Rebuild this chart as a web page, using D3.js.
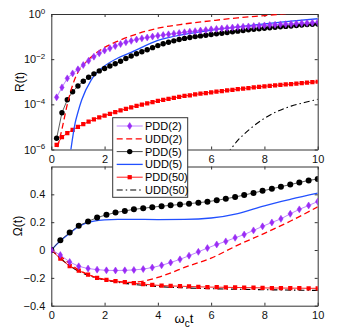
<!DOCTYPE html>
<html>
<head>
<meta charset="utf-8">
<script src="https://cdn.jsdelivr.net/npm/d3@7"></script>
<style>
  body { margin: 0; background: #fff; }
  svg { font-family: "Liberation Sans", Arial, sans-serif; }
  .axis path, .axis line { stroke: #333; }
  .axis text { font-size: 11px; fill: #111; }
</style>
</head>
<body>
<svg id="chart" width="350" height="333"></svg>
<script>
// ---- data ----
const tTop = [0.2, 0.4, 0.6, 0.8, 1.0, 1.2, 1.4, 1.6, 1.8, 2.0,
              2.2, 2.4, 2.6, 2.8, 3.0, 3.2, 3.4, 3.6, 3.8, 4.0,
              4.2, 4.4, 4.6, 4.8, 5.0, 5.2, 5.4, 5.6, 5.8, 6.0,
              6.2, 6.4, 6.6, 6.8, 7.0, 7.2, 7.4, 7.6, 7.8, 8.0,
              8.2, 8.4, 8.6, 8.8, 9.0, 9.2, 9.4, 9.6, 9.8, 10];

// log10 R(t)
const pdd2LogR = [-3.69, -3.25, -2.85, -2.63, -2.45, -2.26, -2.07, -1.89, -1.74, -1.62,
                  -1.52, -1.42, -1.33, -1.25, -1.19, -1.13, -1.08, -1.04, -1.00, -0.96,
                  -0.93, -0.90, -0.87, -0.84, -0.81, -0.78, -0.76, -0.73, -0.71, -0.68,
                  -0.66, -0.64, -0.62, -0.60, -0.58, -0.565, -0.55, -0.535, -0.52, -0.505,
                  -0.49, -0.475, -0.46, -0.45, -0.44, -0.425, -0.41, -0.40, -0.385, -0.37];
const pdd5LogR = [-5.50, -4.37, -3.80, -3.44, -3.19, -2.98, -2.80, -2.65, -2.52, -2.41,
                  -2.30, -2.20, -2.09, -1.97, -1.86, -1.76, -1.67, -1.58, -1.49, -1.40,
                  -1.32, -1.25, -1.19, -1.13, -1.08, -1.04, -1.00, -0.97, -0.94, -0.91,
                  -0.88, -0.85, -0.82, -0.79, -0.76, -0.73, -0.70, -0.68, -0.65, -0.63,
                  -0.61, -0.59, -0.57, -0.55, -0.53, -0.51, -0.49, -0.47, -0.455, -0.44];
const pdd50LogR = [-5.80, -5.45, -5.28, -5.13, -5.00, -4.88, -4.77, -4.67, -4.58, -4.50,
                   -4.42, -4.34, -4.27, -4.20, -4.13, -4.07, -4.01, -3.96, -3.90, -3.85,
                   -3.80, -3.76, -3.71, -3.67, -3.63, -3.60, -3.56, -3.53, -3.50, -3.47,
                   -3.44, -3.41, -3.38, -3.36, -3.33, -3.30, -3.28, -3.25, -3.23, -3.20,
                   -3.18, -3.16, -3.14, -3.12, -3.10, -3.08, -3.06, -3.04, -3.02, -3.00];

const udd2T = [0.15, 0.4, 0.6, 0.8, 1.0, 1.25, 1.5, 2, 2.5, 3, 4, 5, 6, 7, 8, 9, 10];
const udd2LogR = [-6.3, -5.1, -4.0, -3.15, -2.58, -2.2, -1.9, -1.48, -1.2, -0.97, -0.63, -0.44, -0.3, -0.17, -0.07, 0.03, 0.12];
const udd5T = [0.7, 0.9, 1.0, 1.14, 1.5, 2, 2.5, 3, 4, 5, 6, 7, 8, 9, 10];
const udd5LogR = [-6.3, -4.8, -4.35, -3.81, -2.92, -2.3, -1.95, -1.70, -1.17, -0.9, -0.72, -0.57, -0.44, -0.32, -0.21];
const udd50T = [6.6, 7, 7.5, 8, 8.5, 9, 9.5, 10];
const udd50LogR = [-6.2, -5.6, -5.05, -4.62, -4.3, -4.08, -3.92, -3.78];

const tBot = [0, 0.34, 0.69, 1.03, 1.38, 1.72, 2.07, 2.41, 2.76, 3.10,
              3.45, 3.79, 4.14, 4.48, 4.83, 5.17, 5.52, 5.86, 6.21, 6.55,
              6.90, 7.24, 7.59, 7.93, 8.28, 8.62, 8.97, 9.31, 9.66, 10];
const pdd2Omega = [0, -0.036, -0.086, -0.117, -0.133, -0.141, -0.146, -0.147, -0.146, -0.143,
                   -0.137, -0.126, -0.110, -0.090, -0.067, -0.041, -0.013, 0.014, 0.040, 0.062,
                   0.088, 0.111, 0.141, 0.170, 0.198, 0.224, 0.260, 0.292, 0.320, 0.348];
const pdd5Omega = [0, 0.070, 0.125, 0.175, 0.205, 0.233, 0.253, 0.269, 0.281, 0.292,
                   0.300, 0.308, 0.315, 0.321, 0.327, 0.333, 0.340, 0.347, 0.357, 0.368,
                   0.381, 0.395, 0.410, 0.425, 0.440, 0.455, 0.470, 0.485, 0.500, 0.510];
const pdd50Omega = [0, -0.062, -0.116, -0.148, -0.176, -0.200, -0.215, -0.223, -0.230, -0.238,
                    -0.245, -0.251, -0.255, -0.258, -0.260, -0.262, -0.264, -0.266, -0.267, -0.268,
                    -0.269, -0.270, -0.271, -0.272, -0.273, -0.273, -0.274, -0.274, -0.275, -0.275];

const udd2OmT = [0, 0.35, 0.7, 1, 1.5, 2, 2.5, 3, 3.5, 4, 4.5, 5, 6, 7, 8, 9, 10];
const udd2Omega = [0, -0.045, -0.1, -0.14, -0.185, -0.212, -0.228, -0.232, -0.222, -0.197, -0.163, -0.125, -0.058, 0.035, 0.12, 0.21, 0.31];
const udd5OmT = [0, 0.35, 0.7, 1.0, 1.3, 1.6, 2.0, 2.5, 3, 4, 5, 6, 7, 8, 9, 10];
const udd5Omega = [0, 0.068, 0.122, 0.165, 0.193, 0.208, 0.217, 0.220, 0.220, 0.219, 0.220, 0.230, 0.262, 0.318, 0.365, 0.408];
const udd50OmT = [0, 0.5, 1, 1.5, 2, 2.5, 3, 4, 5, 6, 7, 8, 9, 10];
const udd50Omega = [0, -0.085, -0.15, -0.19, -0.215, -0.232, -0.245, -0.262, -0.272, -0.278, -0.282, -0.285, -0.288, -0.29];

const xTicks = [0, 2, 4, 6, 8, 10];
const xTickLabelsTop = ["0", "2", "", "6", "8", "10"]; // "4" sits behind the legend
const rTicks = [1e-6, 1e-4, 1e-2, 1];
const rTickExp = ["\u22126", "\u22124", "\u22122", "0"];
const omegaTicks = [-0.4, -0.2, 0, 0.2, 0.4];
const omegaTickLabels = ["\u22120.4", "\u22120.2", "0", "0.2", "0.4"];
const legendNames = ["PDD(2)", "UDD(2)", "PDD(5)", "UDD(5)", "PDD(50)", "UDD(50)"];

// ---- layout ----
const svg = d3.select("#chart");
const left = 51.3, right = 317.7;
const topPanel = { top: 14, bottom: 149.5 };
const botPanel = { top: 166.5, bottom: 305.7 };

const purple = "#9a2cf5", purpleLine = "#b777ff";
const red = "#ff0000", blue = "#2250ff";

const x = d3.scaleLinear().domain([0, 10]).range([left, right]);
const yR = d3.scaleLog().domain([1e-6, 1]).range([topPanel.bottom, topPanel.top]);
const yO = d3.scaleLinear().domain([-0.4, 0.6]).range([botPanel.bottom, botPanel.top]);

const defs = svg.append("defs");
defs.append("clipPath").attr("id", "clipTop").append("rect")
  .attr("x", left).attr("y", topPanel.top).attr("width", right - left).attr("height", topPanel.bottom - topPanel.top);
defs.append("clipPath").attr("id", "clipBot").append("rect")
  .attr("x", left).attr("y", botPanel.top).attr("width", right - left).attr("height", botPanel.bottom - botPanel.top);

// ---- axes ----
function drawXAxes(panel, labels) {
  svg.append("g").attr("class", "axis").attr("transform", `translate(0,${panel.bottom})`)
    .call(d3.axisBottom(x).tickValues(xTicks).tickSizeInner(-3).tickSizeOuter(0).tickPadding(6)
      .tickFormat((d, i) => labels[i]));
  svg.append("g").attr("class", "axis").attr("transform", `translate(0,${panel.top})`)
    .call(d3.axisTop(x).tickValues(xTicks).tickSizeInner(-3).tickSizeOuter(0).tickFormat(""));
}

// top panel axes
drawXAxes(topPanel, xTickLabelsTop);
const yAxTop = svg.append("g").attr("class", "axis").attr("transform", `translate(${left},0)`)
  .call(d3.axisLeft(yR).tickValues(rTicks).tickSizeInner(-3).tickSizeOuter(0).tickPadding(6).tickFormat(""));
yAxTop.selectAll(".tick text").each(function(d, i) {
  const t = d3.select(this).text("10");
  t.append("tspan").attr("dy", "-0.55em").attr("font-size", "8px").text(rTickExp[i]);
});
svg.append("g").attr("class", "axis").attr("transform", `translate(${right},0)`)
  .call(d3.axisRight(yR).tickValues(rTicks).tickSizeInner(-3).tickSizeOuter(0).tickFormat(""));

// bottom panel axes
drawXAxes(botPanel, xTicks.map(String));
svg.append("g").attr("class", "axis").attr("transform", `translate(${left},0)`)
  .call(d3.axisLeft(yO).tickValues(omegaTicks).tickSizeInner(-3).tickSizeOuter(0).tickPadding(6)
    .tickFormat((d, i) => omegaTickLabels[i]));
svg.append("g").attr("class", "axis").attr("transform", `translate(${right},0)`)
  .call(d3.axisRight(yO).tickValues(omegaTicks).tickSizeInner(-3).tickSizeOuter(0).tickFormat(""));

// axis titles
svg.append("text").attr("transform", "translate(24,82) rotate(-90)")
  .attr("text-anchor", "middle").attr("font-size", "12px").text("R(t)");
svg.append("text").attr("transform", "translate(22,226) rotate(-90)")
  .attr("text-anchor", "middle").attr("font-size", "12px").text("\u03A9(t)");
const xt = svg.append("text").attr("x", 184).attr("y", 323).attr("text-anchor", "middle").attr("font-size", "13px");
xt.append("tspan").text("\u03C9");
xt.append("tspan").attr("dy", "4").attr("font-size", "10px").text("c");
xt.append("tspan").attr("dy", "-4").text("t");

// ---- marks ----
const diamond = d3.symbol().type(d3.symbolDiamond).size(14);
const square = d3.symbol().type(d3.symbolSquare).size(18);

function series(clip, xs, ys, yScale, opts) {
  const g = svg.append("g").attr("clip-path", `url(#${clip})`);
  const pts = xs.map((t, i) => [t, ys[i]]);
  const line = d3.line().x(d => x(d[0])).y(d => yScale(d[1]));
  if (opts.curve) line.curve(d3.curveMonotoneX);
  g.append("path").datum(pts).attr("d", line).attr("fill", "none")
    .attr("stroke", opts.stroke).attr("stroke-width", opts.width || 1)
    .attr("stroke-dasharray", opts.dash || null);
  if (opts.marker === "circle") {
    g.selectAll("circle").data(pts).join("circle")
      .attr("cx", d => x(d[0])).attr("cy", d => yScale(d[1])).attr("r", opts.r || 2.7).attr("fill", "#000");
  } else if (opts.marker === "diamond") {
    g.selectAll("path.m").data(pts).join("path").attr("class", "m")
      .attr("transform", d => `translate(${x(d[0])},${yScale(d[1])}) scale(1.1,1)`)
      .attr("d", diamond).attr("fill", purple).attr("stroke", purple).attr("stroke-width", 0.5);
  } else if (opts.marker === "square") {
    g.selectAll("path.m").data(pts).join("path").attr("class", "m")
      .attr("transform", d => `translate(${x(d[0])},${yScale(d[1])})`)
      .attr("d", square).attr("fill", red);
  }
}

const pow = a => a.map(v => Math.pow(10, v));

// top panel
series("clipTop", tTop, pow(pdd50LogR), yR, { stroke: red, width: 0.9, marker: "square" });
series("clipTop", udd50T, pow(udd50LogR), yR, { stroke: "#000", width: 1.1, dash: "6,3,1.5,3", curve: true });
series("clipTop", udd5T, pow(udd5LogR), yR, { stroke: blue, width: 1.3, curve: true });
series("clipTop", tTop, pow(pdd5LogR), yR, { stroke: "#333", width: 0.8, marker: "circle", r: 2.7 });
series("clipTop", udd2T, pow(udd2LogR), yR, { stroke: red, width: 1.3, dash: "6,3.5", curve: true });
series("clipTop", tTop, pow(pdd2LogR), yR, { stroke: purpleLine, width: 0.9, marker: "diamond" });

// bottom panel
series("clipBot", udd50OmT, udd50Omega, yO, { stroke: "#000", width: 1.1, dash: "6,3,1.5,3", curve: true });
series("clipBot", tBot, pdd50Omega, yO, { stroke: red, width: 0.9, marker: "square" });
series("clipBot", udd5OmT, udd5Omega, yO, { stroke: blue, width: 1.3, curve: true });
series("clipBot", tBot, pdd5Omega, yO, { stroke: "#333", width: 0.8, marker: "circle", r: 3 });
series("clipBot", udd2OmT, udd2Omega, yO, { stroke: red, width: 1.3, dash: "6,3.5", curve: true });
series("clipBot", tBot, pdd2Omega, yO, { stroke: purpleLine, width: 0.9, marker: "diamond" });

// ---- legend ----
const lg = svg.append("g");
lg.append("rect").attr("x", 112.7).attr("y", 117.7).attr("width", 75).attr("height", 79.6)
  .attr("fill", "#fff").attr("stroke", "#333").attr("stroke-width", 1);
const legendStyles = [
  { stroke: purpleLine, marker: "diamond" },
  { stroke: red, dash: "6,3.5", width: 1.3 },
  { stroke: "#333", marker: "circle" },
  { stroke: blue, width: 1.3 },
  { stroke: red, marker: "square" },
  { stroke: "#000", dash: "6,3,1.5,3", width: 1.1 }
];
legendNames.forEach((name, i) => {
  const y = 126 + i * 12.8;
  const s = legendStyles[i];
  lg.append("line").attr("x1", 116.7).attr("x2", 142.7).attr("y1", y).attr("y2", y)
    .attr("stroke", s.stroke).attr("stroke-width", s.width || 0.9).attr("stroke-dasharray", s.dash || null);
  if (s.marker === "diamond") {
    lg.append("path").attr("transform", `translate(129.7,${y}) scale(1.1,1)`).attr("d", diamond)
      .attr("fill", purple).attr("stroke", purple).attr("stroke-width", 0.5);
  } else if (s.marker === "circle") {
    lg.append("circle").attr("cx", 129.7).attr("cy", y).attr("r", 2.7).attr("fill", "#000");
  } else if (s.marker === "square") {
    lg.append("path").attr("transform", `translate(129.7,${y})`).attr("d", square).attr("fill", red);
  }
  lg.append("text").attr("x", 145).attr("y", y).attr("dy", "0.36em").attr("font-size", "11px").text(name);
});
</script>
</body>
</html>
